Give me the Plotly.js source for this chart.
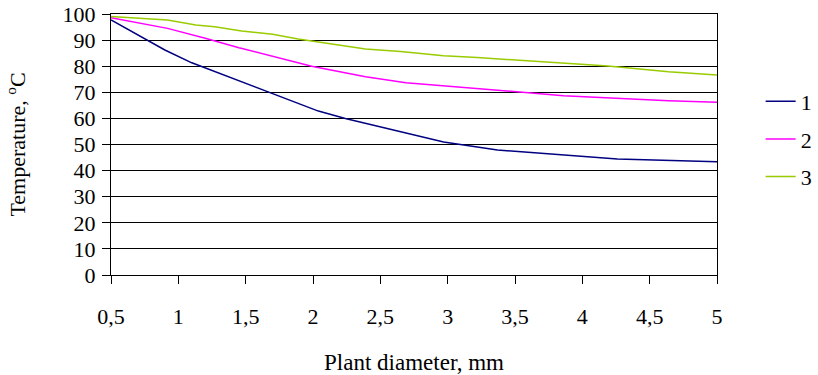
<!DOCTYPE html>
<html>
<head>
<meta charset="utf-8">
<script src="https://cdn.plot.ly/plotly-3.0.1.min.js"></script>
<style>html,body{margin:0;padding:0;background:#fff;}#chart{width:818px;height:375px;}</style>
</head>
<body>
<div id="chart"></div>
<script>
var seriesNames = ['1', '2', '3'];
var x1 = [0.5, 0.7, 0.9, 1.1, 1.3, 1.67, 2.04, 2.24, 2.65, 2.97, 3.37, 3.89, 4.26, 5.0];
var y1 = [97.7, 92.0, 86.2, 81.3, 77.3, 70.0, 62.8, 60.0, 54.9, 51.0, 47.9, 45.7, 44.4, 43.4];
var x2 = [0.5, 0.92, 1.2, 1.45, 1.99, 2.39, 2.69, 3.15, 3.86, 4.64, 5.0];
var y2 = [98.6, 94.5, 90.7, 87.1, 80.0, 76.0, 73.7, 71.8, 68.7, 66.8, 66.2];
var x3 = [0.5, 0.92, 1.13, 1.27, 1.47, 1.7, 1.89, 2.39, 2.65, 2.97, 3.22, 4.19, 4.64, 5.0];
var y3 = [99.0, 97.7, 95.8, 95.1, 93.5, 92.2, 90.4, 86.6, 85.6, 84.0, 83.3, 80.1, 77.9, 76.6];
var xTicks = [0.5, 1, 1.5, 2, 2.5, 3, 3.5, 4, 4.5, 5];
var yTicks = [0, 10, 20, 30, 40, 50, 60, 70, 80, 90, 100];

var colors = ['#000080', '#FF00FF', '#99CC00'];
var xs = [x1, x2, x3], ys = [y1, y2, y3];
var data = xs.map(function (x, i) {
  return {
    x: x, y: ys[i], name: seriesNames[i], type: 'scatter', mode: 'lines',
    line: {color: colors[i], width: 1.5}, legendgroup: 'g' + i
  };
});

var FAMILY = 'Times New Roman, Liberation Serif, Tinos, serif';
function mkFont(sz) { return {family: FAMILY, size: sz, color: '#000000'}; }
var layout = {
  width: 818, height: 375,
  margin: {l: 111, r: 101, t: 14, b: 100, pad: 0, autoexpand: false},
  paper_bgcolor: '#fff', plot_bgcolor: '#fff',
  separators: ', ',
  font: mkFont(22),
  showlegend: true,
  legend: {x: 1.072, y: 0.521, xanchor: 'left', yanchor: 'middle', font: mkFont(22),
           tracegroupgap: 6, traceorder: 'grouped', bgcolor: 'rgba(0,0,0,0)'},
  xaxis: {
    range: [0.5, 5], tickvals: xTicks, ticks: 'outside', ticklen: 8, tickcolor: '#000',
    showline: true, linecolor: '#000', linewidth: 1, mirror: true, showgrid: false,
    zeroline: false, tickfont: mkFont(22), ticklabelstandoff: 14, automargin: false,
    title: {text: 'Plant diameter, mm', font: mkFont(23), standoff: 31}
  },
  yaxis: {
    range: [0, 100], tickvals: yTicks, ticks: 'outside', ticklen: 8, tickcolor: '#000',
    showline: true, linecolor: '#000', linewidth: 1, mirror: true, automargin: false,
    showgrid: true, gridcolor: '#000', gridwidth: 1, zeroline: false, tickfont: mkFont(22),
    ticklabelstandoff: 2,
    title: {text: 'Temperature, <sup>o</sup>C', font: mkFont(22), standoff: 30}
  }
};
Plotly.newPlot('chart', data, layout, {displayModeBar: false, staticPlot: true});
</script>
</body>
</html>
